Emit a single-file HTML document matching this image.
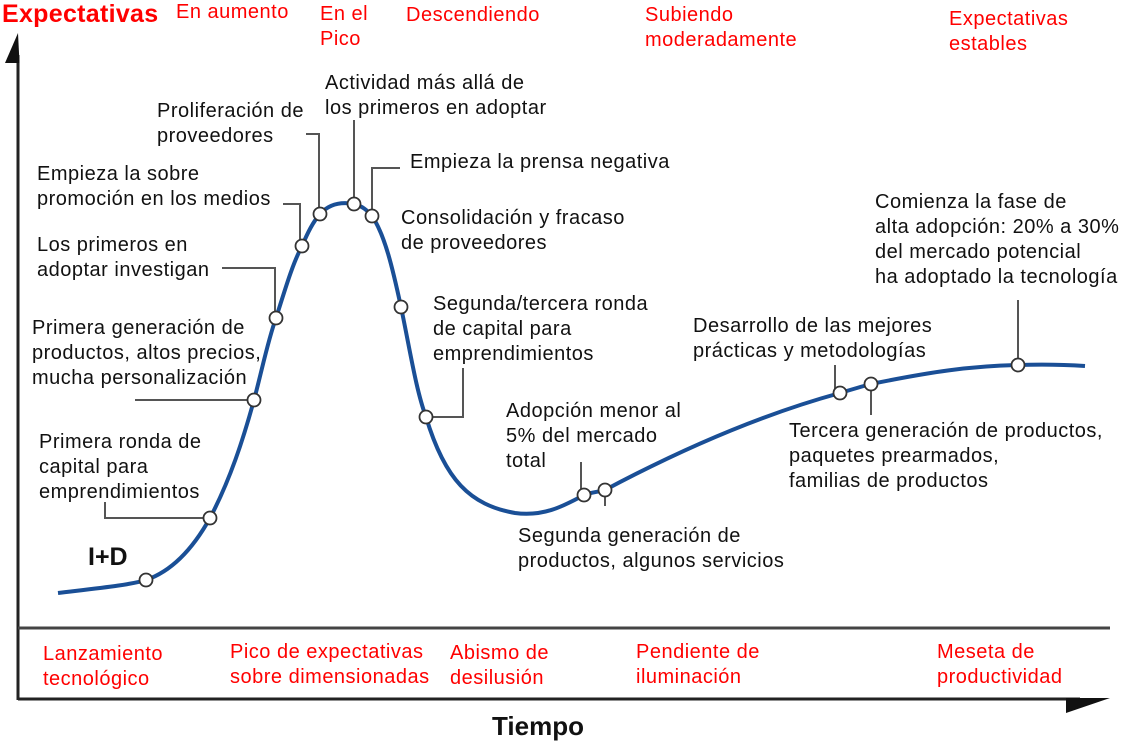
<!DOCTYPE html>
<html><head><meta charset="utf-8"><style>
body{margin:0;background:#fff;}
svg text{font-family:"Liberation Sans",Arial,sans-serif;font-size:20px;letter-spacing:0.5px;fill:#111;}
.r{fill:#f00 !important;}
</style></head><body>
<svg width="1121" height="741" viewBox="0 0 1121 741" xmlns="http://www.w3.org/2000/svg">
<!-- axes -->
<line x1="18" y1="55" x2="18" y2="700" stroke="#222" stroke-width="3"/>
<polygon points="18,33 19.5,63 5,63" fill="#111"/>
<line x1="18" y1="628" x2="1110" y2="628" stroke="#444" stroke-width="3"/>
<line x1="18" y1="699" x2="1080" y2="699" stroke="#222" stroke-width="3"/>
<polygon points="1066,698 1110,698 1066,713" fill="#111"/>
<!-- leaders -->
<g stroke="#555" stroke-width="2" fill="none">
<polyline points="105,502 105,518 210,518"/>
<polyline points="135,400 254,400"/>
<polyline points="222,268 275,268 275,318"/>
<polyline points="283,204 300,204 300,246"/>
<polyline points="306,134 319,134 319,214"/>
<polyline points="354,120 354,204"/>
<polyline points="400,168 372,168 372,216"/>
<polyline points="426,417 463,417 463,368"/>
<polyline points="581,462 581,495"/>
<polyline points="605,490 605,506"/>
<polyline points="835,365 835,393"/>
<polyline points="871,384 871,415"/>
<polyline points="1018,300 1018,365"/>
</g>
<!-- curve -->
<path d="M58,593 C100,588 130,585 146,580 C175,570 195,545 210,518 C230,480 243,440 254,400 C262,370 268,340 276,318 C285,290 292,265 302,246 C308,232 313,222 320,214 C330,203 343,202 354,204 C362,206 367,210 372,216 C385,235 393,270 401,307 C410,350 416,390 426,417 C445,480 470,505 515,513 C545,517 565,505 584,495 C592,492 598,492 605,490 C680,450 760,415 840,393 C850,390 860,387 871,384 C930,372 970,366 1018,365 C1050,364 1070,365 1085,366" stroke="#1a4f96" stroke-width="4" fill="none"/>
<g fill="#fff" stroke="#333" stroke-width="1.8">
<circle cx="146" cy="580" r="6.5"/><circle cx="210" cy="518" r="6.5"/><circle cx="254" cy="400" r="6.5"/>
<circle cx="276" cy="318" r="6.5"/><circle cx="302" cy="246" r="6.5"/><circle cx="320" cy="214" r="6.5"/>
<circle cx="354" cy="204" r="6.5"/><circle cx="372" cy="216" r="6.5"/><circle cx="401" cy="307" r="6.5"/>
<circle cx="426" cy="417" r="6.5"/><circle cx="584" cy="495" r="6.5"/><circle cx="605" cy="490" r="6.5"/>
<circle cx="840" cy="393" r="6.5"/><circle cx="871" cy="384" r="6.5"/><circle cx="1018" cy="365" r="6.5"/>
</g>
<!-- top labels -->
<text x="2" y="22" class="r" style="font-size:25px;font-weight:bold;letter-spacing:0.3px">Expectativas</text>
<text x="176" y="18" class="r">En aumento</text>
<text x="320" y="20" class="r">En el</text><text x="320" y="45" class="r">Pico</text>
<text x="406" y="21" class="r">Descendiendo</text>
<text x="645" y="21" class="r">Subiendo</text><text x="645" y="46" class="r">moderadamente</text>
<text x="949" y="25" class="r">Expectativas</text><text x="949" y="50" class="r">estables</text>
<!-- annotations -->
<text x="325" y="89">Actividad más allá de</text><text x="325" y="114">los primeros en adoptar</text>
<text x="157" y="117">Proliferación de</text><text x="157" y="142">proveedores</text>
<text x="410" y="168">Empieza la prensa negativa</text>
<text x="37" y="180">Empieza la sobre</text><text x="37" y="205">promoción en los medios</text>
<text x="401" y="224">Consolidación y fracaso</text><text x="401" y="249">de proveedores</text>
<text x="37" y="251">Los primeros en</text><text x="37" y="276">adoptar investigan</text>
<text x="433" y="310">Segunda/tercera ronda</text><text x="433" y="335">de capital para</text><text x="433" y="360">emprendimientos</text>
<text x="32" y="334">Primera generación de</text><text x="32" y="359">productos, altos precios,</text><text x="32" y="384">mucha personalización</text>
<text x="506" y="417">Adopción menor al</text><text x="506" y="442">5% del mercado</text><text x="506" y="467">total</text>
<text x="39" y="448">Primera ronda de</text><text x="39" y="473">capital para</text><text x="39" y="498">emprendimientos</text>
<text x="518" y="542">Segunda generación de</text><text x="518" y="567">productos, algunos servicios</text>
<text x="693" y="332">Desarrollo de las mejores</text><text x="693" y="357">prácticas y metodologías</text>
<text x="789" y="437">Tercera generación de productos,</text><text x="789" y="462">paquetes prearmados,</text><text x="789" y="487">familias de productos</text>
<text x="875" y="208">Comienza la fase de</text><text x="875" y="233">alta adopción: 20% a 30%</text><text x="875" y="258">del mercado potencial</text><text x="875" y="283">ha adoptado la tecnología</text>
<text x="88" y="565" style="font-size:25px;font-weight:bold;letter-spacing:0">I+D</text>
<!-- phase labels -->
<text x="43" y="660" class="r">Lanzamiento</text><text x="43" y="685" class="r">tecnológico</text>
<text x="230" y="658" class="r">Pico de expectativas</text><text x="230" y="683" class="r">sobre dimensionadas</text>
<text x="450" y="659" class="r">Abismo de</text><text x="450" y="684" class="r">desilusión</text>
<text x="636" y="658" class="r">Pendiente de</text><text x="636" y="683" class="r">iluminación</text>
<text x="937" y="658" class="r">Meseta de</text><text x="937" y="683" class="r">productividad</text>
<text x="492" y="735" style="font-size:26px;font-weight:bold;letter-spacing:0">Tiempo</text>
</svg>
</body></html>
